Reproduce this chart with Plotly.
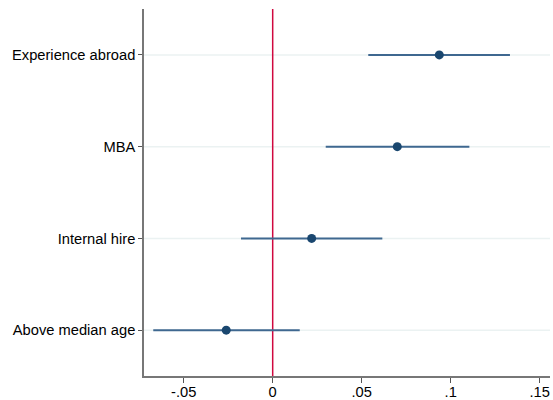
import plotly.graph_objects as go

categories = ["Above median age", "Internal hire", "MBA", "Experience abroad"]
estimates = [-0.0261, 0.0219, 0.0700, 0.0936]
ci_low = [-0.0671, -0.0178, 0.0298, 0.0537]
ci_high = [0.0152, 0.0616, 0.1105, 0.1333]
x_tickvals = [-0.05, 0, 0.05, 0.1, 0.15]
x_ticktext = ["-.05", "0", ".05", ".1", ".15"]

err_plus = [h - e for h, e in zip(ci_high, estimates)]
err_minus = [e - l for e, l in zip(estimates, ci_low)]

fig = go.Figure()
fig.add_trace(go.Scatter(
    x=estimates, y=categories, mode="markers",
    marker=dict(color="#1a476f", size=9),
    error_x=dict(type="data", symmetric=False, array=err_plus, arrayminus=err_minus,
                 color="#3f6890", thickness=2, width=0),
    showlegend=False,
))

# light horizontal gridlines at each category (drawn beneath everything)
for cat in categories:
    fig.add_shape(type="line", x0=0, x1=1, xref="paper", y0=cat, y1=cat, yref="y",
                  layer="below", line=dict(color="#ebf2f2", width=1.5))

fig.add_shape(type="line", x0=0, x1=0, y0=0, y1=1, xref="x", yref="paper",
              layer="between", line=dict(color="#d0083f", width=1.5))

fig.update_layout(
    width=553, height=400,
    margin=dict(l=144, r=3, t=9, b=24, autoexpand=False),
    paper_bgcolor="white", plot_bgcolor="white",
    font=dict(family="Liberation Sans, Arial, sans-serif", size=14.7, color="#000"),
    xaxis=dict(range=[-0.0723, 0.1558], tickvals=x_tickvals, ticktext=x_ticktext,
               showgrid=False, zeroline=False, showline=True, linecolor="#777",
               linewidth=1.5, ticks="outside", ticklen=5, tickcolor="#555",
               tickfont=dict(size=14.7), automargin=False, ticklabelstandoff=-3),
    yaxis=dict(type="category", categoryorder="array", categoryarray=categories,
               range=[-0.5, 3.5], showgrid=False,
               zeroline=False, showline=True, linecolor="#777", linewidth=1.5,
               ticks="outside", ticklen=4, tickcolor="#555", tickfont=dict(size=14.7),
               automargin=False),
)

fig.write_html(
    "out.html",
    config={"displayModeBar": False},
    post_script="document.body.style.margin='0';document.body.style.overflow='hidden';",
)
